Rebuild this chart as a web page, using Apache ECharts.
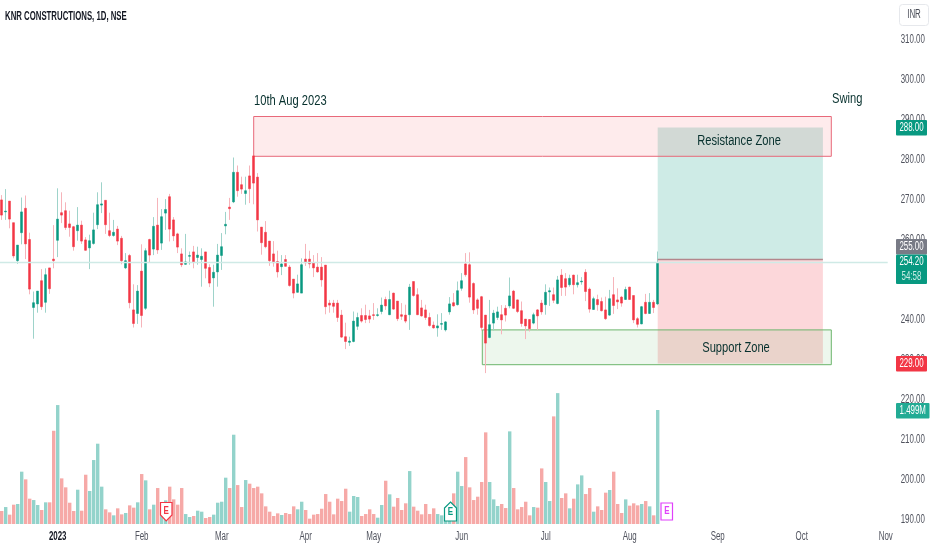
<!DOCTYPE html>
<html>
<head>
<meta charset="utf-8">
<style>html,body{margin:0;padding:0;background:#fff}#c{width:932px;height:550px}</style>
<script src="https://cdn.jsdelivr.net/npm/echarts@6/dist/echarts.min.js"></script>
</head>
<body>
<div id="c"></div>
<script>
// [open, close, low, high] per trading day
const ohlc = [
[269.9,266.1,264.9,271.1],[266.9,267.1,264.9,272.6],[269.6,265.1,262.8,269.6],[264.2,255.9,255.3,264.2],[254.7,258.6,253.9,258.6],
[261.7,266.9,258.8,270.5],[267.8,258.9,255.1,271],[260,247.6,246.3,261.7],[243,244.2,235.2,247],[243.9,247.1,241.7,247.1],
[249.7,243.2,242.4,252.6],[244.3,251.2,241.7,252.8],[252.9,247.7,246.4,252.9],[255.1,254.7,252.8,263.6],[259.8,265.1,255.6,272.8],
[266.7,266.1,264.1,271.8],[267.2,263,262.4,269.3],[263.9,263,260.7,267.2],[263.2,258.2,257.2,263.4],[262.2,263.6,259.7,268.1],
[263.6,259.6,258.9,264.7],[259.9,257.3,257.2,260.6],[257.9,259.7,252.6,261.2],[259,262.4,258.7,266.7],[263.7,268.7,262.6,271.8],
[268.6,268.9,266.6,274.3],[269.8,263.7,261.4,269.8],[262.2,261,260.6,266.7],[261,261.8,260.7,264.9],[262.6,259.6,258.6,263.4],
[260.3,254.7,253.8,260.9],[252.9,254.7,252.6,256.6],[256,244.2,242.8,256.4],[242.4,239,238,248.8],[241.5,247.1,238.9,248.6],
[252.1,241,238,258.8],[242.8,257.2,242.4,257.8],[260,256.1,254.2,260.2],[257.6,263.3,256.1,265.6],[263.6,257.4,256.4,270.4],
[259.1,265.7,257.4,267.6],[266.6,267.5,262.4,270.1],[270.7,262.6,259.5,271.4],[264.9,260.9,259.6,265.6],[261.4,258.1,256.6,261.7],
[256.4,253.7,253.1,257.8],[253.8,254.4,253.7,261.4],[255.8,256,253.7,257],[256.9,254.4,252.8,258.4],[255.5,256.1,253.7,258.2],
[255,255.8,248.2,257.8],[256.9,252.8,250.3,256.9],[253,249.1,248.1,253.8],[250.4,251.8,243.2,253.7],[251.9,256.1,248.2,258.9],
[256,258.2,252.4,261.6],[263.4,263.8,261.3,266.9],[268.1,267.7,264.9,270.4],[269.4,276.8,269.1,280.5],[276.8,272.2,270.7,278.5],
[273.7,272.6,271.4,275.7],[271.5,272.2,268.7,275.7],[275.9,272.7,269.1,278.5],[280.9,274.1,268.8,280.9],[275.6,264.9,262,276.6],
[263.1,259.2,256.2,263.1],[261.8,258.2,257.8,264.6],[259.6,254.7,253.4,259.6],[256.4,254.2,253.2,259.6],[254.5,251.9,250.5,257.2],
[253.2,253.9,251.1,256.1],[255,253.3,253.2,256.1],[253.1,248.5,248.2,253.6],[250.1,246.6,245.3,250.1],[246.8,248.9,246.7,251.2],
[246.6,253.7,246.6,255.3],[255.1,254.2,253.4,258.9],[255.1,253.9,252.8,257.2],[254.2,252.9,250.6,256.1],[253.1,251.9,251.7,256.6],
[253.1,249.9,248.2,255.6],[253.6,243.2,241.3,253.6],[244.1,243.6,241.7,244.9],[244.1,243.3,241.7,244.9],[244.1,240.5,239.4,244.9],
[241.1,235.6,235.4,242.4],[235.7,234.5,232.6,239.2],[234.3,234.6,233.4,235.7],[234.5,239.6,234.3,242],[238.3,240.5,237.4,241.7],
[241,239.6,239.2,242.8],[241,240,239.1,243.7],[240.9,240.1,239.1,242.4],[241.2,241,239.9,244.1],[241,241.2,240.7,242.8],
[242,243.6,241.3,245.5],[245,243.4,242.4,245.7],[241.2,245,241.1,247.2],[246.6,242.6,242.4,246.7],[244.6,240.2,239.6,244.6],
[241.2,240.8,239.9,244.1],[241.1,239.6,239.1,243.7],[241.2,248.1,237.4,248.9],[249.5,246,245.7,249.5],[246.2,241.2,241.1,247.8],
[242.9,240.9,240.7,244.9],[242.4,240.5,239.9,243.7],[240.5,238.5,238.2,241.7],[238.6,237.9,237.7,239.5],[237.9,238.4,235.7,241.3],
[238.8,239,237.4,241.6],[237.4,239.4,237,239.6],[241.9,243.9,241.2,245.6],[244.2,243.4,243.2,246.6],[243.7,247.2,243.5,249.5],
[247.8,249.7,247.2,251.6],[253.9,251.2,250.7,256.6],[253.7,245.6,244.2,256.8],[249,242.4,241.4,249.3],[244.9,242.8,241.2,245.3],
[245.7,238,237.2,245.9],[241.1,234.1,226.6,241.1],[235.5,238.7,235.3,244.9],[239.1,241.6,237.2,242.4],[240.5,241.9,239.9,243.2],
[241.2,239.9,236.3,243.6],[242.8,241.1,239.5,243.6],[243.4,245.9,242.8,250.5],[247.1,242.8,242.6,247.4],[244.9,242,241.6,245],
[242.2,239,238.2,244.5],[240.1,238.4,235.1,240.1],[240,237.7,237,240.1],[239.1,241.2,238.8,241.7],[242.4,240.9,237.4,242.6],
[244.1,241.9,241.2,244.9],[243.7,246.8,241.2,248.8],[246.9,247.2,243.4,248],[246.2,244.8,244.1,248],[244,249.9,243.8,250.9],
[251.1,248,245.9,252.6],[250.2,248.1,245.9,251.6],[248.7,250.3,248.2,251.2],[251.1,248.7,246.3,251.2],[248.7,249.2,248,251.2],
[249.4,249.6,248.7,250.6],[251.8,247,244.6,252.6],[247.6,242.6,241.7,248],[242.5,245.2,242.4,245.7],[245,243.7,242.2,246.2],
[244.5,242.2,242,245.5],[242.4,240.2,239.9,245.7],[241.1,245.2,240.9,247.4],[246.2,243.5,241.4,250.6],[244.9,244.4,242.6,247.8],
[245.6,244.1,243.2,245.9],[245,247.5,244.9,248.2],[248.1,245,244.9,248.2],[246,239.9,239.1,246],[240.2,238.8,238,240.6],
[238.9,243.2,238.8,243.4],[244.3,241.5,241.3,246.4],[241.5,244.3,241.4,246.6],[244.3,243,241.6,244.9],[243.9,254.2,243.6,257]
];
// volume in thousands of shares
const volumes = [
171,223,123,254,263,688,587,333,315,250,184,285,285,1226,1564,600,482,280,171,451,175,648,434,841,1056,491,193,153,114,206,
127,145,245,215,285,657,574,193,254,473,228,311,491,324,254,473,131,92,105,175,162,79,92,123,280,293,609,473,1174,512,
223,578,530,473,491,403,232,162,105,140,118,145,131,232,193,293,184,70,123,131,201,394,293,127,333,302,464,162,368,355,
105,131,193,131,83,250,569,390,228,342,184,272,696,228,175,127,263,131,206,131,114,162,184,403,688,499,880,482,315,359,
552,1205,552,324,237,263,210,1218,473,193,223,293,114,223,215,731,552,302,1415,1721,342,403,206,333,521,639,394,473,162,232,
184,412,447,688,263,145,324,241,272,245,263,302,232,114,1499
];
const tickLabels = ['2023','Feb','Mar','Apr','May','Jun','Jul','Aug','Sep','Oct','Nov'];
const tickIndexes = [14,35,55,76,93,115,136,157,179,200,221];
const slotCount = 222;

// drawing-tool levels
const resistanceBox = {from:63, to:207.4, top:290.75, bottom:280.8};
const supportBox = {from:120.15, to:207.4, top:237.4, bottom:228.7};
const position = {from:164, to:205.3, target:288, entry:255, stop:229};
const lastPrice = 254.2;

const SANS = '"Liberation Sans",sans-serif';
const INK = '#06302d';
const AXIS_INK = '#50535e';
const UP='#089981', DOWN='#f23645', UP_W='#9ed3ca', DOWN_W='#f6b4ba', UP_V='#93d3cb', DOWN_V='#f6a9a7';
const NARROW_TEXT = 0.66, NARROW_NOTE = 0.72;

const cats = Array.from({length:slotCount},(_,i)=>{
  const k = tickIndexes.indexOf(i);
  if(k<0) return '';
  return k===0 ? {value:tickLabels[k],textStyle:{fontWeight:'bold',color:'#131722'}} : tickLabels[k];
});

function area(b,fill,stroke){
  const s = stroke ? {color:fill,borderColor:stroke,borderWidth:1} : {color:fill,borderWidth:0};
  return [{coord:[b.from,b.top],itemStyle:s},{coord:[b.to,b.bottom]}];
}
function tag(x,y,w,h,fill,lines){
  const out=[{type:'rect',z:50,shape:{x,y,width:w,height:h,r:1},style:{fill}}];
  lines.forEach((t,i)=>out.push({type:'text',z:51,x:x+w/2,y:y+h*(i+0.5)/lines.length,scaleX:NARROW_TEXT,
    style:{text:t.text,fill:t.fill||'#fff',font:'12px '+SANS,align:'center',verticalAlign:'middle'}}));
  return out;
}
function label(text,x,y,align){
  return {type:'text',z:40,x,y,scaleX:NARROW_NOTE,style:{text,fill:INK,font:'15.5px '+SANS,align:align||'left',verticalAlign:'middle'}};
}
function earn(points,cx,cy,col){
  return [{type:'polygon',z:45,shape:{points},style:{fill:'#fff',stroke:col,lineWidth:1.2}},
    {type:'text',z:46,x:cx,y:cy,scaleX:0.8,style:{text:'E',fill:col,font:'bold 10px '+SANS,align:'center',verticalAlign:'middle'}}];
}

const graphics = [
  {type:'text',z:40,x:5,y:16,scaleX:0.6,style:{text:'KNR CONSTRUCTIONS, 1D, NSE',fill:'#131722',font:'bold 13px '+SANS,align:'left',verticalAlign:'middle'}},
  label('10th Aug 2023',254,101),
  label('Swing',832,99),
  label('Resistance Zone',739,141,'center'),
  label('Support Zone',736,348,'center'),
  {type:'rect',z:40,shape:{x:899.5,y:4.5,width:29,height:21,r:3},style:{fill:'#fff',stroke:'#e6e8ec'}},
  {type:'text',z:41,x:914,y:15,scaleX:NARROW_TEXT,style:{text:'INR',fill:'#4a4e58',font:'12px '+SANS,align:'center',verticalAlign:'middle'}},
  ...tag(896,120,31,15.5,'#089981',[{text:'288.00'}]),
  ...tag(896,239,31,15.5,'#787b86',[{text:'255.00'}]),
  ...tag(896,254.5,31,29.5,'#089981',[{text:'254.20'},{text:'54:58',fill:'#c8ece4'}]),
  ...tag(896,356,31,15.5,'#f23645',[{text:'229.00'}]),
  ...tag(896,403,33.5,15.5,'#22ab94',[{text:'1.499M'}]),
  ...earn([[160.5,502.5],[172,502.5],[172,515],[166.2,521],[160.5,515]],166.2,511,'#f23645'),
  ...earn([[450.5,502],[456.5,508],[456.5,521],[444.5,521],[444.5,508]],450.5,512.5,'#089981'),
  ...earn([[661,503],[672.5,503],[672.5,520],[661,520]],666.8,511.5,'#e040fb')
];

const priceLabel = v => v.toFixed(2);

const option = {
  animation:false,
  backgroundColor:'#fff',
  textStyle:{fontFamily:SANS},
  grid:[
    {left:-0.3,top:-0.5,width:888,height:520,outerBoundsMode:'none',containLabel:false},
    {left:-0.3,top:390,width:888,height:134,outerBoundsMode:'none',containLabel:false}
  ],
  xAxis:[
    {type:'category',gridIndex:0,data:cats,show:false,boundaryGap:true},
    {type:'category',gridIndex:1,data:cats,boundaryGap:true,
      axisLine:{show:false},axisTick:{show:false},splitLine:{show:false},
      axisLabel:{interval:i=>cats[i]!=='',hideOverlap:false,margin:7,fontSize:12,color:AXIS_INK,fontFamily:SANS,showMaxLabel:true}},
    {type:'value',gridIndex:0,min:-0.5,max:slotCount-0.5,show:false,splitLine:{show:false}}
  ],
  yAxis:[
    {type:'value',gridIndex:0,position:'right',min:190,max:320,interval:10,scale:true,
      axisLine:{show:false},axisTick:{show:false},splitLine:{show:false},
      axisLabel:{margin:13,fontSize:12,color:AXIS_INK,fontFamily:SANS,
        formatter:v=>v>=320?'':priceLabel(v)}},
    {type:'value',gridIndex:1,min:0,max:1762,show:false,splitLine:{show:false}}
  ],
  series:[
    {type:'line',xAxisIndex:2,yAxisIndex:0,data:[],z:1,silent:true,
      markLine:{silent:true,symbol:'none',label:{show:false},animation:false,
        lineStyle:{type:'solid',color:'#cfeae6',width:1.3},
        data:[{yAxis:lastPrice}]}},
    {type:'candlestick',xAxisIndex:0,yAxisIndex:0,z:3,barWidth:1,
      data:ohlc,
      itemStyle:{color:UP_W,color0:DOWN_W,borderColor:UP_W,borderColor0:DOWN_W,borderWidth:1}},
    {type:'candlestick',xAxisIndex:0,yAxisIndex:0,z:4,barWidth:3,
      data:ohlc.map(r=>[r[0],r[1],Math.min(r[0],r[1]),Math.max(r[0],r[1])]),
      itemStyle:{color:UP,color0:DOWN,borderColor:UP,borderColor0:DOWN,borderWidth:0.5}},
    {type:'line',xAxisIndex:2,yAxisIndex:0,data:[],z:5,silent:true,
      markArea:{silent:true,label:{show:false},
        data:[
          area({from:position.from,to:position.to,top:position.target,bottom:position.entry},'rgba(8,153,129,0.2)'),
          area({from:position.from,to:position.to,top:position.entry,bottom:position.stop},'rgba(242,54,69,0.2)'),
          area(resistanceBox,'rgba(242,54,69,0.1)','#e8697a'),
          area(supportBox,'rgba(76,175,80,0.1)','#6cb56c')
        ]},
      markLine:{silent:true,symbol:'none',label:{show:false},
        lineStyle:{type:'solid',color:'#b3868c',width:1.4},
        data:[[{coord:[position.from,position.entry]},{coord:[position.to,position.entry]}]]}},
    {type:'bar',xAxisIndex:1,yAxisIndex:1,barWidth:3.4,z:2,
      data:volumes.map((v,i)=>({value:v,itemStyle:{color:ohlc[i][1]>=ohlc[i][0]?UP_V:DOWN_V}}))}
  ],
  graphic:{elements:graphics}
};
const chart = echarts.init(document.getElementById('c'),null,{renderer:'canvas'});
chart.setOption(option);

// No condensed font is installed: narrow the axis's own tick labels horizontally.
const zr = chart.getZr();
const axisTexts = new Set(tickLabels);
for(let v=190;v<=310;v+=10) axisTexts.add(priceLabel(v));
zr.storage.getRoots().forEach(root=>{
  const visit = el=>{
    if(el.type==='text' && el.style && axisTexts.has(el.style.text)){
      el.scaleX = NARROW_TEXT;
      el.markRedraw();
    }
  };
  if(root.traverse) root.traverse(visit); else visit(root);
});
zr.refreshImmediately();
</script>
</body>
</html>
